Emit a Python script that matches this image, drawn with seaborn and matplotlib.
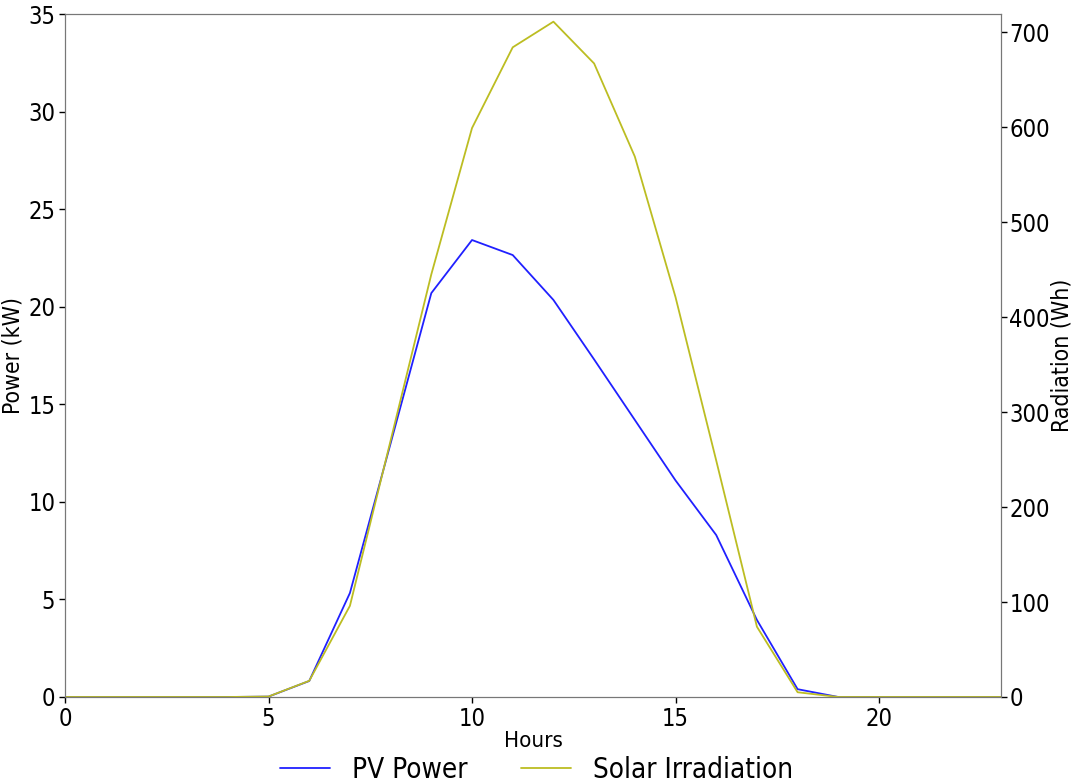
import seaborn as sns
import matplotlib.pyplot as plt
import numpy as np
import pandas as pd

hours = list(range(24))
pv_power = [0, 0, 0, 0, 0, 0.02, 0.82, 5.33, 13.0, 20.7, 23.42, 22.65, 20.35, 17.3, 14.2, 11.1, 8.3, 3.95, 0.4, 0, 0, 0, 0, 0]
irradiation = [0, 0, 0, 0, 0, 0.5, 17, 96, 270, 445, 599, 684, 711, 667, 569, 421, 249, 74, 5, 0, 0, 0, 0, 0]

df = pd.DataFrame({'Hours': hours, 'PV Power': pv_power, 'Solar Irradiation': irradiation})

sns.set_style('white')
plt.rcParams['font.family'] = ['DejaVu Sans']
plt.rcParams['font.stretch'] = 'condensed'
plt.rcParams['text.color'] = 'black'
plt.rcParams['axes.labelcolor'] = 'black'

fig, ax = plt.subplots(figsize=(10.73, 7.82), dpi=100)
fig.subplots_adjust(left=0.0606, right=0.933, top=0.982, bottom=0.1087)
ax2 = ax.twinx()

sns.lineplot(data=df, x='Hours', y='PV Power', ax=ax, color='#2020ff', linewidth=1.3, label='PV Power', legend=False)
sns.lineplot(data=df, x='Hours', y='Solar Irradiation', ax=ax2, color='#bcbd22', linewidth=1.3, label='Solar Irradiation', legend=False)

ax.set_xlim(0, 23)
ax.set_ylim(0, 35)
ax2.set_ylim(0, 719)
ax.set_xticks([0, 5, 10, 15, 20])
ax2.set_yticks([0, 100, 200, 300, 400, 500, 600, 700])
ax.set_xlabel('Hours', fontsize=16, labelpad=0)
ax.set_ylabel('Power (kW)', fontsize=16.5, labelpad=3)
ax2.set_ylabel('Radiation (Wh)', fontsize=16.5, labelpad=0)
for a in (ax, ax2):
    a.tick_params(labelsize=17, length=4, width=1, colors='black', pad=3)
    a.tick_params(axis='x', bottom=True)
    for s in a.spines.values():
        s.set_color('#777777')
ax.tick_params(axis='y', left=True)
ax2.tick_params(axis='y', right=True, pad=2)

lines = ax.get_lines() + ax2.get_lines()
fig.legend(lines, ['PV Power', 'Solar Irradiation'], loc='lower center', ncol=2, fontsize=20,
           frameon=False, bbox_to_anchor=(0.5, -0.034), handlelength=1.8, columnspacing=1.9)

plt.savefig('out.png', dpi=100)
